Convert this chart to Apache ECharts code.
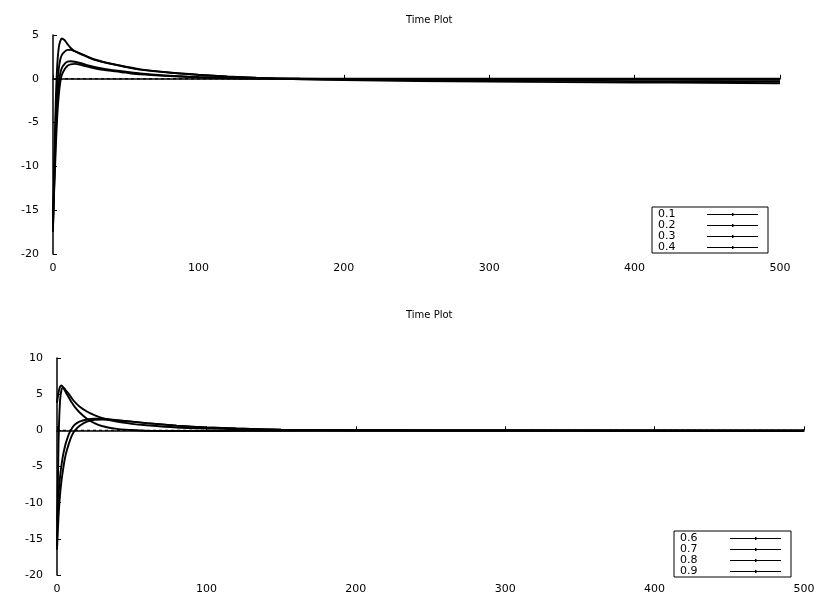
<!DOCTYPE html>
<html>
<head>
<meta charset="utf-8">
<script src="https://cdn.jsdelivr.net/npm/echarts@6/dist/echarts.min.js"></script>
<style>html,body{margin:0;padding:0;background:#fff;}#c{width:824px;height:595px;}</style>
</head>
<body>
<div id="c"></div>
<script>
// ---- Top panel data ----
const topTimes = [0,1,2,3,4,5,6,8,10,12,15,20,25,30,40,50,60,80,100,120,140,170,200,250,300,350,400,450,500];
const topNames = ['0.1','0.2','0.3','0.4'];
const top01 = [-17.5,-9,-2,1.8,3.6,4.3,4.6,4.4,3.95,3.55,3.15,2.75,2.4,2.1,1.7,1.35,1.05,0.7,0.45,0.25,0.1,-0.05,-0.15,-0.25,-0.32,-0.38,-0.42,-0.46,-0.5];
const top02 = [-17,-10,-4,-0.5,1.2,2.2,2.7,3.1,3.3,3.3,3.15,2.8,2.45,2.15,1.72,1.38,1.08,0.72,0.47,0.27,0.12,0,-0.05,-0.12,-0.18,-0.22,-0.26,-0.28,-0.3];
const top03 = [-16.5,-11,-6,-2.5,-0.5,0.6,1.2,1.7,1.95,2.0,1.95,1.75,1.5,1.3,1.0,0.8,0.6,0.35,0.2,0.1,0.03,0,-0.02,-0.04,-0.06,-0.08,-0.09,-0.1,-0.12];
const top04 = [-16,-12,-7.5,-4,-1.8,-0.4,0.4,1.1,1.5,1.65,1.7,1.55,1.35,1.15,0.9,0.7,0.5,0.3,0.15,0.07,0.02,0,0,0,0,0,0,0,0];
const topSeries = [top01, top02, top03, top04];

// ---- Bottom panel data ----
const botTimes = [0,1,2,3,4,5,6,8,10,12,15,20,25,30,40,50,60,80,100,120,150,200,250,300,400,500];
const botNames = ['0.6','0.7','0.8','0.9'];
const bot06 = [3.8,5.2,6.0,6.2,6.0,5.6,5.2,4.5,3.8,3.2,2.5,1.6,1.0,0.6,0.2,0.05,-0.05,-0.1,-0.1,-0.08,-0.05,-0.03,-0.02,-0.02,-0.05,-0.1];
const bot07 = [-16,-2,4,5.6,5.9,5.8,5.5,5.0,4.4,3.9,3.3,2.6,2.1,1.7,1.2,0.9,0.7,0.4,0.25,0.15,0.05,0,-0.02,-0.03,-0.05,-0.08];
const bot08 = [-12.5,-9,-6.5,-4.8,-3.5,-2.5,-1.7,-0.5,0.3,0.8,1.2,1.5,1.6,1.6,1.4,1.2,1.0,0.65,0.4,0.25,0.1,0.02,0,0,0,0];
const bot09 = [-16.5,-12,-9,-7,-5.5,-4.2,-3.2,-1.8,-0.7,0,0.6,1.2,1.45,1.5,1.4,1.2,1.0,0.65,0.4,0.25,0.1,0.02,0,0,-0.02,-0.03];
const botSeries = [bot06, bot07, bot08, bot09];

const xTicks = [0,100,200,300,400,500];
const topYTicks = [-20,-15,-10,-5,0,5];
const botYTicks = [-20,-15,-10,-5,0,5,10];
const zeroLine = [[0,0],[500,0]];

const FONT = 'DejaVu Sans';
const chart = echarts.init(document.getElementById('c'), null, {renderer:'canvas'});

function pairs(ts, vs){ return ts.map((t,i)=>[t, vs[i]]); }

function axisX(gi){
  return {
    gridIndex: gi, type:'value', min: xTicks[0], max: xTicks[xTicks.length-1], interval: 100,
    axisLine:{show:true, lineStyle:{color:'#000', width:1.5}},
    axisTick:{show:true, inside:true, length:4, lineStyle:{color:'#000'}},
    axisLabel:{color:'#000', fontFamily:FONT, fontSize:11, margin:9},
    splitLine:{show:false}
  };
}
function axisY(gi, ticks){
  return {
    gridIndex: gi, type:'value', min: ticks[0], max: ticks[ticks.length-1], interval: 5,
    axisLine:{show:true, onZero:false, lineStyle:{color:'#000', width:1.5}},
    axisTick:{show:true, inside:true, length:4, lineStyle:{color:'#000'}},
    axisLabel:{color:'#000', fontFamily:FONT, fontSize:11, margin:14},
    splitLine:{show:false}
  };
}

const series = [];
topNames.forEach((n,i)=>{
  series.push({name:n, type:'line', xAxisIndex:0, yAxisIndex:0, data:pairs(topTimes, topSeries[i]),
    smooth:0.25, showSymbol:false, symbol:'none',
    lineStyle:{color:'#000', width:1.9}, itemStyle:{color:'#000'}, animation:false, silent:true});
});
botNames.forEach((n,i)=>{
  series.push({name:n, type:'line', xAxisIndex:1, yAxisIndex:1, data:pairs(botTimes, botSeries[i]),
    smooth:0.25, showSymbol:false, symbol:'none',
    lineStyle:{color:'#000', width:1.9}, itemStyle:{color:'#000'}, animation:false, silent:true});
});
[0,1].forEach(gi=>{
  series.push({name:'zero'+gi, type:'line', xAxisIndex:gi, yAxisIndex:gi, data:zeroLine,
    showSymbol:false, symbol:'none', lineStyle:{color:'#000', width:1.2, type:[3,3]}, animation:false, silent:true, z:1});
});

const legendIcon = 'path://M0,1 L51,1 L51,2 L0,2 Z M25,0 L26.5,0 L26.5,3 L25,3 Z';
function legend(names, left, top, textW){
  return {
    data: names.map(n=>({name:n, icon:legendIcon})), orient:'vertical', left:left, top:top, align:'right',
    itemWidth:51, itemHeight:8, itemGap:0,
    padding:[2,10,0,6], borderColor:'#000', borderWidth:1, backgroundColor:'#fff',
    formatter: '{a|{name}}',
    textStyle:{color:'#000', fontFamily:FONT, fontSize:11, lineHeight:10,
      rich:{a:{width:textW, align:'left', fontFamily:FONT, fontSize:11, lineHeight:10, color:'#000'}}},
    itemStyle:{color:'#000', borderWidth:0},
    selectedMode:false
  };
}

chart.setOption({
  backgroundColor:'#fff',
  animation:false,
  title:[
    {text:'Time Plot', left:401, top:10, textStyle:{fontFamily:FONT, fontSize:10, fontWeight:'normal', color:'#000'}},
    {text:'Time Plot', left:401, top:305, textStyle:{fontFamily:FONT, fontSize:10, fontWeight:'normal', color:'#000'}}
  ],
  grid:[
    {left:53, right:44, top:35, height:219},
    {left:57, right:20, top:358, height:220}
  ],
  xAxis:[axisX(0), axisX(1)],
  yAxis:[axisY(0, topYTicks), axisY(1, botYTicks)],
  legend:[legend(topNames, 652, 207, 44), legend(botNames, 674, 531, 45)],
  series: series
});
</script>
</body>
</html>
